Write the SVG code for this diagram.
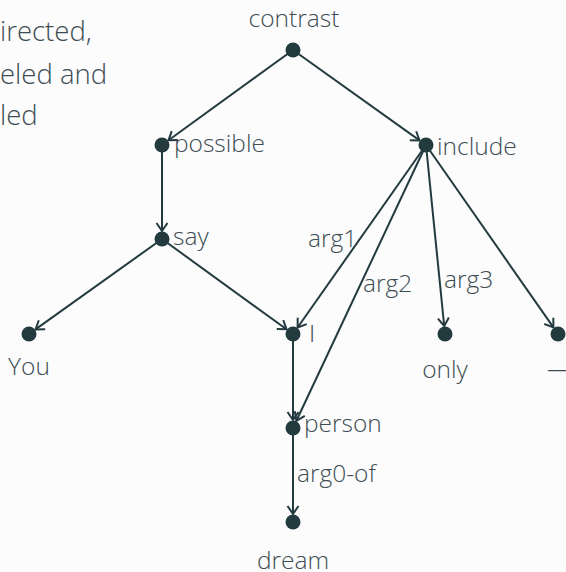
<svg xmlns="http://www.w3.org/2000/svg" width="566" height="572" viewBox="0 0 566 572">
<style>
text{font-family:"Open Sans","Noto Sans",sans-serif;font-size:24.5px;font-weight:300;fill:#3c4d53}
.t text{font-size:27.5px}
.e line{stroke:#233a3f;stroke-width:2;fill:none}
.n circle{fill:#233a3f}
</style>
<defs>
<marker id="a" markerUnits="userSpaceOnUse" viewBox="-10 -7 12 14" refX="0" refY="0" markerWidth="12" markerHeight="14" orient="auto">
<path d="M-8,-5.5 L0,0 L-8,5.5" fill="none" stroke="#233a3f" stroke-width="2"/>
</marker>
</defs>
<rect width="566" height="572" fill="#fcfcfc"/>
<g id="title" class="t">
<text x="0" y="41">irected,</text>
<text x="0" y="84">eled and</text>
<text x="0" y="125">led</text>
</g>
<g id="connectors" class="e">
<line x1="293" y1="50" x2="168.5" y2="140.3" marker-end="url(#a)"/>
<line x1="293" y1="50" x2="419.5" y2="140.4" marker-end="url(#a)"/>
<line x1="162" y1="145" x2="162" y2="231" marker-end="url(#a)"/>
<line x1="162" y1="239" x2="35.5" y2="329.4" marker-end="url(#a)"/>
<line x1="162" y1="239" x2="286.5" y2="329.3" marker-end="url(#a)"/>
<line x1="426" y1="145" x2="297.6" y2="327.5" marker-end="url(#a)"/>
<line x1="426" y1="145" x2="296.4" y2="420.8" marker-end="url(#a)"/>
<line x1="426" y1="145" x2="444.2" y2="326" marker-end="url(#a)"/>
<line x1="426" y1="145" x2="553.4" y2="327.4" marker-end="url(#a)"/>
<line x1="293" y1="334" x2="293" y2="420" marker-end="url(#a)"/>
<line x1="293" y1="428" x2="293" y2="514" marker-end="url(#a)"/>
<text x="308" y="247">arg1</text>
<text x="363" y="292">arg2</text>
<text x="444" y="288">arg3</text>
<text x="297" y="482">arg0-of</text>
</g>
<g id="contrast" class="n"><circle cx="293" cy="50" r="7.5"/><text x="294" y="27" text-anchor="middle">contrast</text></g>
<g id="possible" class="n"><circle cx="162" cy="145" r="7.5"/><text x="174" y="152">possible</text></g>
<g id="include" class="n"><circle cx="426" cy="145" r="7.5"/><text x="437" y="155">include</text></g>
<g id="say" class="n"><circle cx="162" cy="239" r="7.5"/><text x="173" y="245">say</text></g>
<g id="You" class="n"><circle cx="29" cy="334" r="7.5"/><text x="29" y="375" text-anchor="middle">You</text></g>
<g id="I" class="n"><circle cx="293" cy="334" r="7.5"/><text x="309" y="342">I</text></g>
<g id="only" class="n"><circle cx="445" cy="334" r="7.5"/><text x="445" y="378" text-anchor="middle">only</text></g>
<g id="dash" class="n"><circle cx="558" cy="334" r="7.5"/><text x="547" y="377">—</text></g>
<g id="person" class="n"><circle cx="293" cy="428" r="7.5"/><text x="304" y="432">person</text></g>
<g id="dream" class="n"><circle cx="293" cy="522" r="7.5"/><text x="293" y="569" text-anchor="middle">dream</text></g>
</svg>
